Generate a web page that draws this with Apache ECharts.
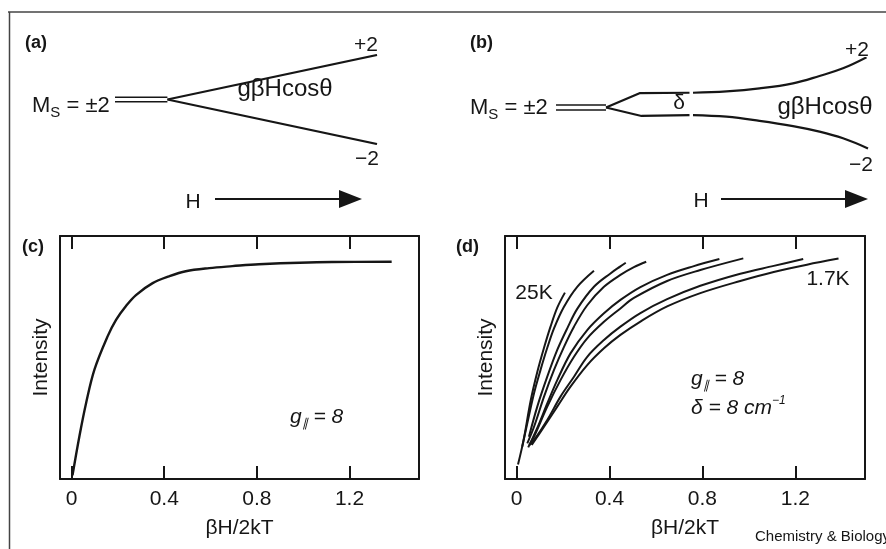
<!DOCTYPE html>
<html><head><meta charset="utf-8">
<script src="https://cdn.jsdelivr.net/npm/echarts@6/dist/echarts.min.js"></script>
<style>html,body{margin:0;padding:0;background:#fff}#c{width:886px;height:549px}</style>
</head><body><div id="c"></div>
<script>
// ---------- data ----------
const tickValues = [0, 0.4, 0.8, 1.2];
const tickLabels = ['0', '0.4', '0.8', '1.2'];
const xAxisName = 'βH/2kT';
const yAxisName = 'Intensity';

// (a) Zeeman splitting without zero-field gap: [H, E]
const aDoubleUpper = [[-1, 0.1], [0, 0.1]];
const aDoubleLower = [[-1, -0.1], [0, -0.1]];
const aPlus2 = [[0, 0], [4, 2]];
const aMinus2 = [[0, 0], [4, -2]];

// (b) with zero-field splitting delta
const bDoubleUpper = [[-1, -0.04], [0, -0.04]];
const bDoubleLower = [[-1, -0.26], [0, -0.26]];
const bForkUpper = [[0, -0.15], [0.67, 0.47], [1.67, 0.49]];
const bForkLower = [[0, -0.15], [0.71, -0.52], [1.67, -0.48]];
const bPlus2H = [1.74, 2.41, 3.07, 3.74, 4.27, 4.74, 5.21];
const bPlus2E = [0.49, 0.55, 0.68, 0.90, 1.22, 1.55, 2.03];
const bMinus2H = [1.74, 2.41, 3.07, 3.74, 4.27, 4.74, 5.24];
const bMinus2E = [-0.48, -0.55, -0.73, -0.96, -1.20, -1.49, -1.93];

// (c) single curve, g|| = 8
const cX = [0.004, 0.034, 0.063, 0.099, 0.156, 0.192, 0.235, 0.278, 0.350, 0.421, 0.493, 0.594, 0.694, 0.809, 1.124, 1.382];
const cY = [0.015, 0.177, 0.314, 0.451, 0.588, 0.655, 0.712, 0.757, 0.806, 0.834, 0.855, 0.868, 0.876, 0.884, 0.893, 0.894];

// (d) eight temperatures, 25K ... 1.7K
const d1X = [0.006, 0.030, 0.060, 0.089, 0.118, 0.146, 0.175, 0.208];
const d1Y = [0.060, 0.160, 0.320, 0.440, 0.540, 0.627, 0.705, 0.767];
const d2X = [0.024, 0.046, 0.075, 0.103, 0.132, 0.161, 0.204, 0.261, 0.333];
const d2Y = [0.133, 0.229, 0.353, 0.449, 0.540, 0.620, 0.709, 0.791, 0.857];
const d3X = [0.053, 0.089, 0.132, 0.175, 0.218, 0.261, 0.333, 0.404, 0.447, 0.470];
const d3Y = [0.174, 0.298, 0.421, 0.531, 0.620, 0.700, 0.791, 0.846, 0.875, 0.890];
const d4X = [0.046, 0.075, 0.118, 0.161, 0.204, 0.247, 0.304, 0.376, 0.447, 0.505, 0.558];
const d4Y = [0.147, 0.215, 0.339, 0.449, 0.544, 0.627, 0.715, 0.791, 0.840, 0.872, 0.894];
const d5X = [0.050, 0.089, 0.132, 0.175, 0.232, 0.304, 0.376, 0.447, 0.533, 0.648, 0.760, 0.873];
const d5Y = [0.130, 0.210, 0.311, 0.407, 0.517, 0.613, 0.682, 0.737, 0.790, 0.840, 0.875, 0.905];
const d6X = [0.055, 0.075, 0.132, 0.189, 0.247, 0.304, 0.376, 0.447, 0.505, 0.648, 0.791, 0.976];
const d6Y = [0.140, 0.174, 0.298, 0.407, 0.503, 0.579, 0.647, 0.702, 0.745, 0.815, 0.860, 0.908];
const d7X = [0.055, 0.075, 0.132, 0.189, 0.247, 0.304, 0.376, 0.447, 0.533, 0.648, 0.791, 0.963, 1.107, 1.234];
const d7Y = [0.140, 0.160, 0.243, 0.339, 0.421, 0.503, 0.572, 0.627, 0.683, 0.740, 0.795, 0.845, 0.877, 0.905];
const d8X = [0.065, 0.118, 0.175, 0.232, 0.304, 0.376, 0.447, 0.533, 0.648, 0.791, 0.963, 1.107, 1.250, 1.386];
const d8Y = [0.140, 0.215, 0.298, 0.380, 0.469, 0.538, 0.593, 0.648, 0.710, 0.765, 0.815, 0.852, 0.882, 0.907];

// ---------- build ----------
const FF = '"Liberation Sans", Arial, Helvetica, sans-serif';
const INK = '#161616';
const zip = (xs, ys) => xs.map((x, i) => [x, ys[i]]);

function ser(data, xi, yi, opts) {
  opts = opts || {};
  return {
    type: 'line', xAxisIndex: xi, yAxisIndex: yi, data: data, symbol: 'none',
    smooth: opts.smooth || false,
    silent: true, animation: false,
    lineStyle: { color: INK, width: opts.width || 2.2 }
  };
}

function plotX(gi, pos) {
  const bottom = pos === 'bottom';
  return {
    type: 'value', gridIndex: gi, position: pos, min: -0.05, max: 1.5,
    name: bottom ? xAxisName : '', nameLocation: 'middle', nameGap: 39,
    nameTextStyle: { fontFamily: FF, fontSize: 21, color: INK },
    axisLine: { show: true, onZero: false, lineStyle: { color: INK, width: 2 } },
    axisTick: { show: true, inside: true, length: 13, customValues: tickValues, lineStyle: { color: INK, width: 2 } },
    axisLabel: {
      show: bottom, margin: 10, customValues: tickValues, fontFamily: FF, fontSize: 21, color: INK,
      formatter: v => tickLabels[tickValues.indexOf(v)]
    },
    splitLine: { show: false }
  };
}
function plotY(gi, pos) {
  const left = pos === 'left';
  return {
    type: 'value', gridIndex: gi, position: pos, min: 0, max: 1,
    name: left ? yAxisName : '', nameLocation: 'middle', nameRotate: 90, nameGap: 8,
    nameTextStyle: { fontFamily: FF, fontSize: 21, color: INK },
    axisLine: { show: true, onZero: false, lineStyle: { color: INK, width: 2 } },
    axisTick: { show: false }, axisLabel: { show: false }, splitLine: { show: false }
  };
}
const hiddenX = (gi, min, max) => ({ type: 'value', gridIndex: gi, min, max, show: false });
const hiddenY = (gi) => ({ type: 'value', gridIndex: gi, min: -2, max: 2, show: false });

function txt(x, y, text, o) {
  o = o || {};
  return {
    type: 'text', x: x, y: y, silent: true, z: 10,
    style: {
      text: text, fill: INK, fontFamily: FF, fontSize: o.size || 21,
      fontWeight: o.weight || 'normal', fontStyle: o.style || 'normal',
      align: o.align || 'left', verticalAlign: 'middle', rich: o.rich
    }
  };
}
function arrow(x1, x2, y) {
  return [
    { type: 'line', silent: true, shape: { x1: x1, y1: y, x2: x2 - 6, y2: y }, style: { stroke: INK, lineWidth: 2.2 } },
    { type: 'polygon', silent: true, shape: { points: [[x2 - 23, y - 9], [x2, y], [x2 - 23, y + 9]] }, style: { fill: INK } }
  ];
}
const msRich = {
  m: { fontFamily: FF, fontSize: 22, color: INK, lineHeight: 28, verticalAlign: 'middle' },
  s: { fontFamily: FF, fontSize: 15, color: INK, lineHeight: 15, verticalAlign: 'bottom' }
};
const gRich = {
  m: { fontFamily: FF, fontSize: 21, fontStyle: 'italic', color: INK, lineHeight: 26, verticalAlign: 'middle' },
  s: { fontFamily: FF, fontSize: 12, fontStyle: 'italic', color: INK, lineHeight: 12, verticalAlign: 'bottom' },
  p: { fontFamily: FF, fontSize: 12, fontStyle: 'italic', color: INK, lineHeight: 12, verticalAlign: 'top' }
};

const option = {
  backgroundColor: '#ffffff',
  animation: false,
  grid: [
    { left: 115, top: 55, width: 262, height: 89 },
    { left: 556, top: 58, width: 312, height: 92 },
    { left: 60, top: 236, width: 359, height: 243 },
    { left: 505, top: 236, width: 360, height: 243 }
  ],
  xAxis: [
    hiddenX(0, -1, 4), hiddenX(1, -1, 5.24),
    plotX(2, 'bottom'), plotX(2, 'top'),
    plotX(3, 'bottom'), plotX(3, 'top')
  ],
  yAxis: [
    hiddenY(0), hiddenY(1),
    plotY(2, 'left'), plotY(2, 'right'),
    plotY(3, 'left'), plotY(3, 'right')
  ],
  series: [],
  graphic: []
};
option.series.push(
  ser(aDoubleUpper, 0, 0, { width: 1.5 }), ser(aDoubleLower, 0, 0, { width: 1.5 }),
  ser(aPlus2, 0, 0), ser(aMinus2, 0, 0),
  ser(bDoubleUpper, 1, 1, { width: 1.5 }), ser(bDoubleLower, 1, 1, { width: 1.5 }),
  ser(bForkUpper, 1, 1), ser(bForkLower, 1, 1),
  ser(zip(bPlus2H, bPlus2E), 1, 1, { smooth: 0.4 }), ser(zip(bMinus2H, bMinus2E), 1, 1, { smooth: 0.4 }),
  ser(zip(cX, cY), 2, 2, { smooth: 0.35, width: 2.4 })
);
[[d1X, d1Y], [d2X, d2Y], [d3X, d3Y], [d4X, d4Y], [d5X, d5Y], [d6X, d6Y], [d7X, d7Y], [d8X, d8Y]]
  .forEach(p => option.series.push(ser(zip(p[0], p[1]), 4, 4, { smooth: 0.35, width: 2 })));

option.graphic = [
  // frame
  { type: 'line', silent: true, shape: { x1: 8, y1: 12, x2: 886, y2: 12 }, style: { stroke: '#444', lineWidth: 1.5 } },
  { type: 'line', silent: true, shape: { x1: 9.5, y1: 12, x2: 9.5, y2: 549 }, style: { stroke: '#444', lineWidth: 1.5 } },
  // panel letters
  txt(25, 43, '(a)', { size: 18, weight: 'bold' }),
  txt(470, 43, '(b)', { size: 18, weight: 'bold' }),
  txt(22, 247, '(c)', { size: 18, weight: 'bold' }),
  txt(456, 247, '(d)', { size: 18, weight: 'bold' }),
  // (a)
  txt(32, 106, '{m|M}{s|S}{m| = ±2}', { rich: msRich }),
  txt(366, 45, '+2', { align: 'center' }),
  txt(367, 159, '−2', { align: 'center' }),
  txt(285, 89, 'gβHcosθ', { align: 'center', size: 24 }),
  txt(193, 202, 'H', { align: 'center' }),
  // (b)
  txt(470, 108, '{m|M}{s|S}{m| = ±2}', { rich: msRich }),
  txt(857, 50, '+2', { align: 'center' }),
  txt(861, 165, '−2', { align: 'center' }),
  txt(679, 103, 'δ', { align: 'center' }),
  txt(825, 107, 'gβHcosθ', { align: 'center', size: 24 }),
  txt(701, 201, 'H', { align: 'center' }),
  // (c)
  txt(290, 417, '{m|g}{s|∥}{m| = 8}', { rich: gRich }),
  // (d)
  txt(534, 293, '25K', { align: 'center' }),
  txt(828, 279, '1.7K', { align: 'center' }),
  txt(691, 379, '{m|g}{s|∥}{m| = 8}', { rich: gRich }),
  txt(691, 408, '{m|δ = 8 cm}{p|−1}', { rich: gRich }),
  txt(755, 537, 'Chemistry & Biology', { size: 15 })
].concat(arrow(215, 362, 199), arrow(721, 868, 199));

const chart = echarts.init(document.getElementById('c'), null, { renderer: 'canvas' });
chart.setOption(option);
</script>
</body></html>
